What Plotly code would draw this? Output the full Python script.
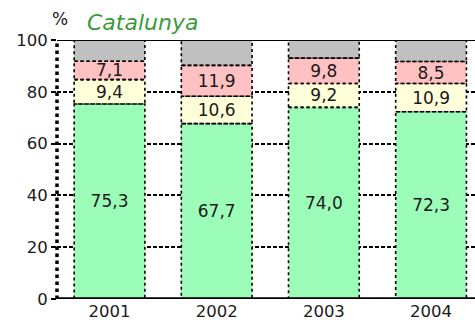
import plotly.graph_objects as go

# Distribució percentual per any (Catalunya)
years = ["2001", "2002", "2003", "2004"]
green_vals = [75.3, 67.7, 74.0, 72.3]
yellow_vals = [9.4, 10.6, 9.2, 10.9]
pink_vals = [7.1, 11.9, 9.8, 8.5]
# resta fins al 100 %
gray_vals = [round(100 - g - y - p, 1) for g, y, p in zip(green_vals, yellow_vals, pink_vals)]

y_ticks = [0, 20, 40, 60, 80, 100]

def fmt(v):
    return f"{v:.1f}".replace(".", ",")

FONT = "DejaVu Sans, Verdana, sans-serif"
BAR_W = 0.66

series = [
    (green_vals, "#9cfdb8", True),
    (yellow_vals, "#ffffd9", True),
    (pink_vals, "#ffc1c1", True),
    (gray_vals, "#c0c0c0", False),
]

fig = go.Figure()
for vals, color, labelled in series:
    fig.add_trace(go.Bar(
        x=years, y=vals, width=BAR_W,
        marker=dict(color=color, line=dict(width=0)),
        text=[fmt(v) for v in vals] if labelled else None,
        textposition="inside" if labelled else "none",
        insidetextanchor="middle",
        textangle=0,
        constraintext="none",
        textfont=dict(family=FONT, size=17, color="#1a1a1a"),
        hoverinfo="skip",
        showlegend=False,
    ))

# dotted outlines around each stacked segment
shapes = []
for i in range(len(years)):
    base = 0.0
    for vals, _, _ in series:
        top = base + vals[i]
        shapes.append(dict(
            type="rect", xref="x", yref="y",
            x0=i - BAR_W / 2, x1=i + BAR_W / 2, y0=base, y1=top,
            line=dict(color="black", width=1.6, dash="dot"),
            fillcolor="rgba(0,0,0,0)", layer="above",
        ))
        base = top

# left axis (dotted), top frame line and base line
shapes.append(dict(type="line", xref="paper", yref="y", x0=0, x1=0, y0=0, y1=100,
                   line=dict(color="black", width=3.5, dash="dot"), layer="above"))
shapes.append(dict(type="line", xref="paper", yref="y", x0=0, x1=1, y0=100, y1=100,
                   line=dict(color="black", width=2), layer="above"))
shapes.append(dict(type="line", xref="paper", yref="y", x0=0, x1=1, y0=0, y1=0,
                   line=dict(color="black", width=3.5), layer="above"))

fig.update_layout(
    barmode="stack",
    width=475, height=326,
    margin=dict(l=57, r=0, t=40, b=27),
    paper_bgcolor="white", plot_bgcolor="white",
    shapes=shapes,
    xaxis=dict(
        type="category",
        range=[-0.49, 3.41],
        showgrid=False, showline=False, zeroline=False,
        ticks="",
        tickfont=dict(family=FONT, size=16.5, color="#1a1a1a"),
    ),
    yaxis=dict(
        range=[0, 100],
        tickvals=y_ticks,
        showgrid=True, gridcolor="black", gridwidth=2, griddash="4px,2px",
        zeroline=False, showline=False,
        ticks="outside", ticklen=5, tickwidth=2, tickcolor="black",
        tickfont=dict(family=FONT, size=16.5, color="#1a1a1a"),
    ),
    annotations=[
        dict(text="%", xref="paper", yref="paper", x=0.007, y=1.0, yshift=9,
             xanchor="center", yanchor="bottom", showarrow=False,
             font=dict(family=FONT, size=17, color="#1a1a1a")),
        dict(text="<i>Catalunya</i>", xref="paper", yref="paper", x=0.068, y=1.0, yshift=3,
             xanchor="left", yanchor="bottom", showarrow=False,
             font=dict(family=FONT, size=22, color="#3c9a3c")),
    ],
)

fig.write_html("out.html")
